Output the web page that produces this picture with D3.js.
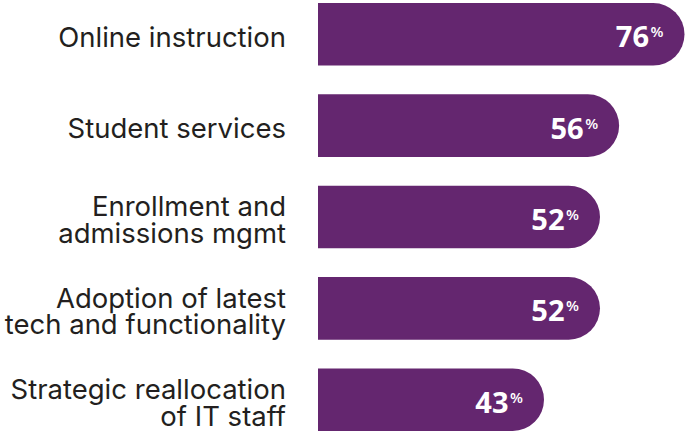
<!DOCTYPE html>
<html>
<head>
<meta charset="utf-8">
<script src="https://cdn.jsdelivr.net/npm/d3@7"></script>
<style>
  body { margin: 0; background: #fff; }
  svg { display: block; }
</style>
</head>
<body>
<div id="chart"></div>
<script>
// Chart data
const categories = [
    ['Online instruction'],
    ['Student services'],
    ['Enrollment and', 'admissions mgmt'],
    ['Adoption of latest', 'tech and functionality'],
    ['Strategic reallocation', 'of IT staff']
];
const values = [76, 56, 52, 52, 43];

const width = 687;
const height = 435;
const barLeft = 318;
const barColor = '#64266f';
const textColor = '#231f20';

const svg = d3.select('#chart')
    .append('svg')
    .attr('width', width)
    .attr('height', height);

// Scales
const y = d3.scaleBand()
    .domain(d3.range(categories.length))
    .range([3, 431])
    .paddingInner(0.315)
    .paddingOuter(0);

// the original's bar lengths are not proportional; a reciprocal scale follows them closely
const x = d3.scalePow()
    .exponent(-1)
    .domain([43, 76])
    .range([544, 684.5]);

const rows = svg.selectAll('.row')
    .data(values)
    .enter()
    .append('g')
    .attr('class', 'row');

// Bars: square left, fully rounded right end
rows.append('path')
    .attr('fill', barColor)
    .attr('d', (d, i) => {
        const y0 = y(i);
        const h = y.bandwidth();
        const r = h / 2;
        const x1 = x(d);
        return `M${barLeft},${y0}H${x1 - r}A${r},${r} 0 0 1 ${x1 - r},${y0 + h}H${barLeft}Z`;
    });

// Value labels
const valueText = rows.append('text')
    .attr('text-anchor', 'end')
    .attr('x', d => x(d) - 21)
    .attr('y', (d, i) => y(i) + y.bandwidth() / 2 + 13)
    .attr('fill', '#fff')
    .attr('font-family', '"Open Sans", sans-serif')
    .attr('font-weight', 700);

valueText.append('tspan')
    .attr('font-size', 29)
    .text(d => d);

valueText.append('tspan')
    .attr('font-size', 15)
    .attr('font-weight', 600)
    .attr('dx', 1.5)
    .attr('dy', -10)
    .text('%');

// Category labels
const labels = svg.selectAll('.label')
    .data(categories)
    .enter()
    .append('text')
    .attr('class', 'label')
    .attr('text-anchor', 'end')
    .attr('fill', textColor)
    .attr('font-family', 'Inter, sans-serif')
    .attr('font-size', 27.5)
    .attr('x', 286)
    .attr('y', (d, i) => y(i) + y.bandwidth() / 2 + 12.5 - (d.length - 1) * 13.3);

labels.selectAll('tspan')
    .data(d => d)
    .enter()
    .append('tspan')
    .attr('x', 286)
    .attr('dy', (d, j) => j === 0 ? 0 : 26.7)
    .text(d => d);
</script>
</body>
</html>
